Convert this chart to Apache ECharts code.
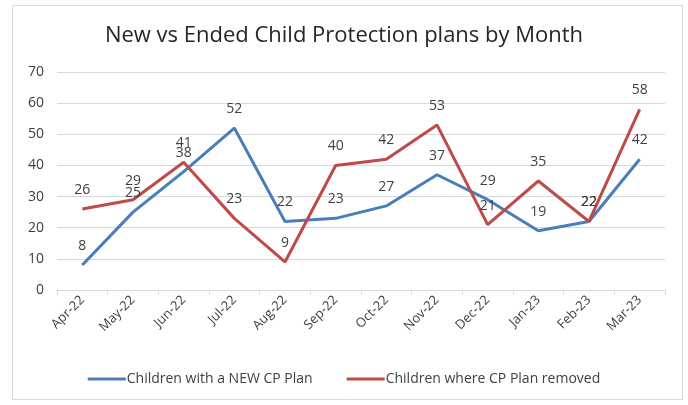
<!DOCTYPE html>
<html>
<head>
<meta charset="utf-8">
<script src="https://cdn.jsdelivr.net/npm/echarts@6/dist/echarts.min.js"></script>
<style>
  html, body { margin: 0; padding: 0; background: #fff; }
  #chart { width: 688px; height: 405px; }
</style>
</head>
<body>
<div id="chart"></div>
<script>
const months = ['Apr-22', 'May-22', 'Jun-22', 'Jul-22', 'Aug-22', 'Sep-22', 'Oct-22', 'Nov-22', 'Dec-22', 'Jan-23', 'Feb-23', 'Mar-23']
const newPlans = [8, 25, 38, 52, 22, 23, 27, 37, 29, 19, 22, 42]
const endedPlans = [26, 29, 41, 23, 9, 40, 42, 53, 21, 35, 22, 58]

const font = 'Open Sans'
const chart = echarts.init(document.getElementById('chart'))

// labels sit above each point, like the excel original
const pointLabel = { show: true, position: 'top', distance: 12, color: '#404040', fontSize: 14 }

chart.setOption({
  animation: false,
  textStyle: { fontFamily: font },
  graphic: [
    {
      type: 'rect',
      shape: { x: 12.5, y: 5.5, width: 670, height: 394 },
      style: { fill: 'none', stroke: '#d9d9d9', lineWidth: 1 },
      silent: true
    }
  ],
  title: {
    text: 'New vs Ended Child Protection plans by Month',
    left: 'center',
    top: 20,
    textStyle: { fontFamily: font, fontSize: 22, fontWeight: 'normal', color: '#262626' }
  },
  legend: {
    bottom: 14,
    left: 'center',
    itemWidth: 38,
    itemHeight: 3,
    itemGap: 34,
    icon: 'rect',
    textStyle: { fontFamily: font, fontSize: 14, color: '#404040', padding: [0, 0, 0, -4] },
    data: ['Children with a NEW CP Plan', 'Children where CP Plan removed']
  },
  grid: { left: 57, right: 23, top: 72, bottom: 115, containLabel: false },
  xAxis: {
    type: 'category',
    data: months,
    boundaryGap: true,
    axisLine: { lineStyle: { color: '#d9d9d9' } },
    axisTick: { show: true, length: 5, lineStyle: { color: '#d9d9d9' } },
    axisLabel: { rotate: 45, color: '#404040', fontSize: 13, margin: 8 }
  },
  yAxis: {
    type: 'value',
    min: 0,
    max: 70,
    interval: 10,
    axisLine: { show: false },
    axisTick: { show: false },
    axisLabel: { color: '#404040', fontSize: 14, margin: 13 },
    splitLine: { lineStyle: { color: '#d9d9d9' } }
  },
  series: [
    {
      name: 'Children with a NEW CP Plan',
      type: 'line',
      data: newPlans,
      symbol: 'circle',
      symbolSize: 0,
      color: '#4A7EBB',
      lineStyle: { width: 3 },
      label: pointLabel
    },
    {
      name: 'Children where CP Plan removed',
      type: 'line',
      data: endedPlans,
      symbol: 'circle',
      symbolSize: 0,
      color: '#BE4B48',
      lineStyle: { width: 3 },
      label: pointLabel
    }
  ]
})
</script>
</body>
</html>
